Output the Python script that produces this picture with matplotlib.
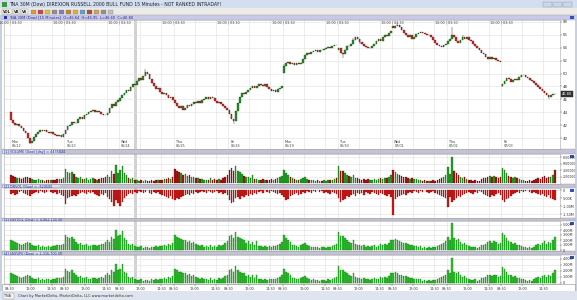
import numpy as np
import matplotlib
matplotlib.use("Agg")
import matplotlib.pyplot as plt
from matplotlib.patches import Rectangle

# 15 minute bars, 26 per session
days = ["Mon", "Tue", "Wed", "Thu", "Fri", "Mon", "Tue", "Wed", "Thu", "Fri"]
dates = ["06/22", "06/23", "06/24", "06/25", "06/26", "06/29", "06/30", "07/01", "07/02", "07/03"]
time_labels = ["09:30", "12:00", "14:30"]
session_label = "10:00 | 03:30"
bars_per_day = 26

day_open = [44.0, 40.6, 45.8, 45.9, 44.4, 50.1, 53.6, 57.3, 54.6, 48.0]

close = [
    42.8, 42.4, 42.0, 42.2, 41.8, 41.5, 41.1, 40.8, 40.0, 39.3, 39.6, 40.1, 40.6, 41.0, 41.3, 41.1, 41.2, 40.9, 40.8, 40.9, 40.6, 40.5, 40.3, 40.5, 40.1, 40.6,
    41.2, 41.8, 42.0, 42.5, 42.3, 42.4, 42.9, 43.2, 43.0, 43.5, 43.7, 44.0, 44.2, 44.4, 44.1, 44.2, 44.0, 43.8, 43.6, 43.5, 43.9, 44.6, 45.2, 45.0, 45.6, 45.9,
    46.2, 46.6, 47.0, 47.5, 47.3, 47.9, 48.4, 48.2, 48.8, 49.3, 49.0, 49.6, 50.2, 50.0, 49.2, 48.5, 48.0, 47.6, 47.8, 47.2, 46.8, 47.0, 46.6, 46.2, 46.4, 45.9,
    45.5, 45.0, 44.6, 44.9, 44.4, 44.7, 45.1, 45.0, 45.3, 45.6, 45.4, 45.7, 45.5, 45.9, 46.0, 46.3, 46.1, 46.4, 46.2, 45.8, 45.5, 45.6, 45.3, 45.0, 44.6, 44.4,
    43.8, 43.0, 42.6, 44.2, 45.5, 46.3, 47.0, 46.8, 47.2, 47.5, 47.8, 48.0, 47.7, 48.1, 48.3, 48.2, 48.0, 48.3, 47.9, 47.6, 47.3, 47.5, 47.2, 47.6, 47.8, 48.0,
    51.2, 51.6, 51.8, 51.5, 51.6, 51.4, 51.6, 51.5, 51.7, 52.3, 52.9, 53.2, 53.0, 53.3, 53.5, 53.6, 53.4, 53.7, 53.6, 53.8, 54.0, 54.1, 53.9, 54.2, 54.5, 54.4,
    54.0, 53.2, 53.1, 53.6, 54.3, 54.2, 54.6, 55.2, 55.6, 55.4, 54.9, 54.6, 54.3, 54.1, 53.9, 54.0, 54.2, 54.6, 55.0, 55.3, 55.1, 55.6, 56.0, 55.8, 56.3, 56.6,
    57.0, 57.4, 57.6, 57.2, 56.8, 56.3, 56.0, 55.7, 55.9, 55.4, 55.7, 56.1, 56.3, 56.5, 56.3, 56.2, 55.9, 56.0, 55.6, 55.2, 54.8, 54.4, 54.2, 54.1, 54.4, 54.6,
    55.0, 55.3, 56.0, 55.7, 55.0, 54.8, 55.2, 55.6, 55.4, 55.7, 55.2, 55.0, 54.6, 54.2, 53.9, 53.6, 53.2, 53.0, 52.6, 52.3, 52.5, 52.2, 52.4, 52.1, 51.9, 51.8,
    48.4, 48.8, 49.3, 49.1, 48.7, 49.0, 49.2, 49.0, 49.4, 49.7, 49.8, 49.5, 49.3, 49.0, 48.8, 48.5, 48.2, 47.9, 47.6, 47.3, 47.0, 46.7, 46.4, 46.6, 46.9, 46.8,
]

# bars with a visible wick beyond the body
wick_hi = {64: 50.7, 130: 51.5, 163: 55.5, 184: 57.9, 210: 57.2, 215: 55.9}
wick_lo = {9: 39.0, 106: 42.2, 158: 52.4, 166: 54.6, 234: 47.9, 256: 46.1}

# volume, millions
volume = [
    2.5, 2.2, 1.9, 1.6, 1.4, 1.3, 1.5, 1.8, 2.0, 1.6, 1.2, 1.0, 0.9, 1.1, 0.8, 0.9, 0.7, 0.8, 0.9, 0.8, 1.0, 0.9, 1.1, 1.2, 1.3, 1.6,
    4.4, 3.4, 3.1, 3.3, 2.8, 2.0, 1.6, 1.8, 1.3, 1.2, 1.5, 1.0, 1.1, 1.4, 1.2, 0.9, 1.3, 1.6, 1.5, 2.0, 2.5, 2.0, 3.7, 2.8, 5.6, 3.2,
    4.0, 5.3, 3.1, 2.5, 1.6, 1.2, 1.5, 0.9, 0.8, 0.7, 0.9, 0.6, 0.8, 0.7, 0.6, 0.8, 0.7, 0.9, 0.8, 1.0, 0.9, 1.2, 1.1, 1.5, 1.3, 1.8,
    4.3, 3.7, 3.4, 3.0, 2.6, 2.8, 2.2, 2.5, 1.9, 2.0, 1.6, 1.4, 1.1, 1.3, 0.9, 1.0, 0.8, 1.4, 0.9, 1.1, 0.8, 1.2, 1.0, 1.4, 1.8, 2.4,
    4.0, 4.7, 3.7, 5.3, 3.7, 3.4, 2.8, 2.2, 1.9, 2.0, 1.6, 2.5, 1.3, 1.2, 1.0, 0.9, 1.1, 0.8, 1.0, 0.9, 1.2, 1.0, 1.3, 1.5, 1.8, 2.2,
    4.0, 3.1, 2.5, 2.0, 1.4, 1.2, 1.0, 0.9, 1.2, 1.6, 1.9, 1.3, 1.0, 0.8, 0.9, 0.7, 0.8, 0.6, 0.7, 0.8, 0.7, 0.9, 0.8, 1.0, 1.2, 1.5,
    5.3, 3.7, 3.7, 3.1, 2.5, 2.2, 1.9, 2.5, 1.6, 1.4, 1.2, 1.0, 1.3, 0.9, 1.1, 0.8, 1.0, 1.2, 0.9, 1.1, 1.5, 1.2, 1.6, 1.4, 1.9, 2.5,
    4.0, 3.4, 2.8, 2.5, 2.2, 1.9, 2.0, 1.6, 1.3, 1.5, 1.1, 1.2, 0.9, 1.0, 0.7, 0.8, 0.6, 0.7, 0.6, 0.8, 0.7, 1.0, 1.2, 1.6, 1.9, 2.5,
    5.0, 2.8, 8.1, 3.7, 3.1, 2.5, 2.0, 1.6, 1.9, 1.3, 1.0, 0.8, 0.7, 0.9, 0.6, 0.7, 1.2, 1.4, 1.6, 2.0, 2.2, 1.9, 2.3, 2.0, 1.6, 1.9,
    4.7, 4.0, 3.1, 2.2, 2.0, 1.6, 1.9, 1.4, 1.2, 1.0, 0.9, 0.7, 0.6, 0.8, 0.7, 0.9, 1.2, 1.5, 1.3, 1.9, 2.2, 1.6, 2.0, 1.9, 2.5, 4.0,
]

# down volume, thousands (plotted negative)
down_vol = [
    250, 190, 310, 250, 125, 60, 190, 250, 310, 375, 250, 190, 125, 190, 60, 125, 190, 125, 0, 125, 190, 125, 250, 190, 310, 375,
    875, 500, 440, 375, 310, 375, 250, 190, 125, 190, 250, 125, 190, 125, 250, 310, 375, 250, 310, 190, 440, 560, 750, 1000, 625, 810,
    1000, 750, 500, 375, 250, 190, 250, 125, 190, 60, 125, 190, 125, 0, 190, 250, 125, 190, 125, 250, 310, 375, 440, 500, 375, 560,
    625, 500, 560, 440, 375, 310, 250, 310, 190, 250, 125, 190, 125, 60, 125, 190, 60, 125, 190, 125, 60, 190, 125, 250, 190, 310,
    625, 810, 750, 500, 440, 560, 375, 440, 310, 375, 250, 310, 190, 250, 125, 60, 190, 0, 125, 190, 60, 125, 190, 250, 190, 310,
    440, 625, 560, 375, 310, 250, 190, 310, 250, 125, 190, 60, 125, 190, 60, 125, 0, 125, 60, 190, 125, 190, 250, 125, 190, 250,
    500, 750, 625, 560, 375, 440, 310, 250, 375, 190, 250, 190, 310, 125, 190, 250, 125, 190, 250, 310, 190, 250, 310, 375, 250, 440,
    1560, 560, 440, 375, 310, 250, 310, 190, 125, 190, 60, 125, 190, 60, 125, 0, 125, 190, 125, 60, 190, 250, 310, 375, 440, 500,
    1060, 440, 750, 625, 500, 375, 440, 310, 250, 190, 125, 190, 250, 125, 190, 60, 125, 250, 310, 375, 440, 310, 375, 250, 190, 310,
    625, 750, 560, 500, 375, 250, 190, 125, 190, 60, 125, 60, 0, 125, 190, 125, 190, 250, 310, 250, 375, 440, 310, 500, 560, 625,
]

# two market volume studies, millions
study1 = [
    2.0, 1.8, 1.6, 1.4, 1.2, 1.0, 1.3, 1.5, 1.7, 1.4, 1.0, 0.9, 0.8, 1.0, 0.7, 0.8, 0.6, 0.7, 0.8, 0.7, 0.9, 0.8, 1.0, 1.1, 1.0, 1.3,
    3.0, 2.6, 2.4, 2.6, 2.2, 1.6, 1.3, 1.5, 1.1, 1.0, 1.2, 0.8, 0.9, 1.1, 1.0, 0.8, 1.1, 1.3, 1.2, 1.6, 2.0, 1.6, 2.6, 2.2, 4.0, 2.8,
    3.0, 3.8, 2.4, 2.0, 1.3, 1.0, 1.2, 0.8, 0.7, 0.6, 0.8, 0.5, 0.7, 0.6, 0.5, 0.7, 0.6, 0.8, 0.7, 0.9, 0.8, 1.0, 0.9, 1.2, 1.1, 1.4,
    3.0, 2.6, 2.4, 2.2, 2.0, 2.1, 1.7, 1.9, 1.5, 1.6, 1.3, 1.1, 0.9, 1.0, 0.7, 0.8, 0.6, 1.1, 0.7, 0.9, 0.6, 1.0, 0.8, 1.1, 1.4, 1.8,
    2.8, 3.0, 2.4, 3.6, 2.6, 2.4, 2.2, 2.0, 1.5, 1.8, 1.2, 1.6, 1.1, 1.8, 0.9, 0.8, 0.7, 0.9, 0.6, 0.8, 0.7, 0.9, 0.8, 1.0, 1.2, 1.6,
    3.0, 2.4, 2.0, 1.6, 1.1, 1.0, 0.8, 0.7, 1.0, 1.3, 1.5, 1.0, 0.8, 0.6, 0.7, 0.6, 0.6, 0.5, 0.6, 0.6, 0.5, 0.7, 0.6, 0.8, 1.0, 1.2,
    3.6, 2.8, 2.8, 2.4, 2.0, 1.7, 1.5, 2.0, 1.3, 1.1, 1.0, 0.8, 1.0, 0.7, 0.9, 0.6, 0.8, 1.0, 0.7, 0.9, 1.2, 1.0, 1.3, 1.1, 1.5, 2.0,
    2.0, 2.2, 2.0, 1.8, 1.6, 1.4, 1.5, 1.2, 1.0, 1.1, 0.8, 0.9, 0.7, 0.8, 0.5, 0.6, 0.5, 0.6, 0.5, 0.6, 0.6, 0.8, 1.0, 1.3, 1.5, 1.8,
    2.6, 2.0, 5.4, 2.4, 2.0, 2.2, 1.6, 1.3, 1.5, 1.0, 0.8, 0.6, 0.6, 0.7, 0.5, 0.6, 1.0, 1.1, 1.3, 1.6, 1.8, 1.5, 1.8, 1.6, 1.3, 1.5,
    3.4, 3.0, 2.4, 1.8, 1.6, 1.3, 1.5, 1.1, 1.0, 0.8, 0.7, 0.6, 0.5, 0.6, 0.5, 0.7, 1.0, 1.2, 1.0, 1.5, 1.8, 1.3, 1.6, 1.5, 2.0, 2.6,
]

study2 = [
    1.6, 1.5, 1.3, 1.1, 1.0, 0.8, 1.0, 1.2, 1.4, 1.1, 0.8, 0.7, 0.6, 0.8, 0.5, 0.6, 0.5, 0.6, 0.7, 0.5, 0.7, 0.6, 0.8, 0.9, 0.8, 1.0,
    2.4, 2.0, 1.9, 2.1, 1.7, 1.3, 1.0, 1.2, 0.9, 0.8, 1.0, 0.6, 0.7, 0.9, 0.8, 0.6, 0.9, 1.0, 0.9, 1.3, 1.6, 1.3, 2.1, 1.8, 3.2, 2.2,
    2.4, 3.1, 1.9, 1.6, 1.0, 0.8, 1.0, 0.6, 0.5, 0.5, 0.6, 0.4, 0.5, 0.5, 0.4, 0.6, 0.5, 0.6, 0.5, 0.7, 0.6, 0.8, 0.7, 1.0, 0.9, 1.1,
    2.4, 2.1, 1.9, 1.8, 1.6, 1.7, 1.3, 1.5, 1.2, 1.3, 1.0, 0.9, 0.7, 0.8, 0.6, 0.6, 0.5, 0.9, 0.5, 0.7, 0.5, 0.8, 0.6, 0.9, 1.1, 1.4,
    2.2, 2.4, 1.9, 2.9, 2.1, 1.9, 1.7, 1.6, 1.2, 1.4, 1.0, 1.3, 0.9, 1.4, 0.7, 0.6, 0.5, 0.7, 0.5, 0.6, 0.6, 0.7, 0.6, 0.8, 1.0, 1.3,
    2.4, 1.9, 1.6, 1.3, 0.9, 0.8, 0.6, 0.6, 0.8, 1.0, 1.2, 0.8, 0.6, 0.5, 0.6, 0.5, 0.5, 0.4, 0.5, 0.5, 0.4, 0.6, 0.5, 0.6, 0.8, 1.0,
    2.9, 2.2, 2.2, 1.9, 1.6, 1.4, 1.2, 1.6, 1.0, 0.9, 0.8, 0.6, 0.8, 0.6, 0.7, 0.5, 0.6, 0.8, 0.6, 0.7, 1.0, 0.8, 1.0, 0.9, 1.2, 1.6,
    1.6, 1.8, 1.6, 1.4, 1.3, 1.1, 1.2, 1.0, 0.8, 0.9, 0.6, 0.7, 0.6, 0.6, 0.4, 0.5, 0.4, 0.5, 0.4, 0.5, 0.5, 0.6, 0.8, 1.0, 1.2, 1.4,
    2.1, 1.6, 4.2, 1.9, 1.6, 1.8, 1.3, 1.0, 1.2, 0.8, 0.6, 0.5, 0.5, 0.6, 0.4, 0.5, 0.8, 0.9, 1.0, 1.3, 1.4, 1.2, 1.4, 1.3, 1.0, 1.2,
    2.7, 2.4, 1.9, 1.4, 1.3, 1.0, 1.2, 0.9, 0.8, 0.6, 0.6, 0.5, 0.4, 0.5, 0.4, 0.6, 0.8, 1.0, 0.8, 1.2, 1.4, 1.0, 1.3, 1.2, 1.6, 2.1,
]

price_ticks = [40, 42, 44, 46, 48, 50, 52, 54, 56, 58]
vol_ticks = [2, 4, 6, 8]
down_ticks = [0, -500, -1000, -1500]
down_tick_labels = ["0", "-500K", "-1.00M", "-1.50M"]
study1_ticks = [0, 1, 2, 3, 4, 5]
study2_ticks = [0, 1, 2, 3, 4]

title = "TNA 30M (Dow) DIREXION RUSSELL 2000 BULL FUND 15 Minutes - NOT RANKED INTRADAY!"
header = "TNA 30M (Dow) [15 Minutes]  O=46.64  H=46.95  L=46.60  C=46.80"
study_names = ["[1] VOLUME (Dow) [day] = 4435824",
               "[2] DNVOL (Dow) = -624500",
               "[3] $NYVOL (Dow) = 4,882,100.00",
               "[4] $NYUPV (Dow) = 2,316,700.00"]
footer = "Chart by MarketDelta, MarketDelta, LLC www.marketdelta.com"

# ---- derived OHLC
close = np.array(close)
n = len(close)
idx = np.arange(n)
opens = np.empty(n)
for i in range(n):
    if i % bars_per_day == 0:
        opens[i] = day_open[i // bars_per_day]
    else:
        opens[i] = close[i - 1]
highs = np.maximum(opens, close)
lows = np.minimum(opens, close)
for k, v in wick_hi.items():
    highs[k] = max(highs[k], v)
for k, v in wick_lo.items():
    lows[k] = min(lows[k], v)
up = close >= opens

W, H = 577, 300


def rect(x0, y0, x1, y1):
    return [x0 / W, 1 - y1 / H, (x1 - x0) / W, (y1 - y0) / H]


fig = plt.figure(figsize=(5.77, 3.0), dpi=100)
fig.patch.set_facecolor("white")

bg = fig.add_axes([0, 0, 1, 1], zorder=-5)
bg.set_xlim(0, W)
bg.set_ylim(H, 0)
bg.axis("off")


def box(x0, y0, x1, y1, fc, ec="none", lw=0.0):
    bg.add_patch(Rectangle((x0, y0), x1 - x0, y1 - y0, facecolor=fc, edgecolor=ec, linewidth=lw))


# window chrome
box(0, 0, W, 8, "#d3dff0")
box(0, 8, W, 15, "#ecebe4")
box(2, 15, W, 20, "#c9c9e6", "#9a9ac0", 0.3)
box(0, 15, 2, 300, "#c6d0de")
box(575, 15, W, 300, "#c6d0de")
bg.add_patch(Rectangle((1.5, 1.5), 5, 5, facecolor="#3a9a3a"))
bg.text(9, 4.2, title, fontsize=3.3, va="center", color="#202020")
for bx in [543, 553, 563]:
    box(bx, 1.5, bx + 9, 6.5, "#cbd6e6", "#8a98b0", 0.3)
for bx, lab in [(2, "VOL"), (13, "VB"), (21, "VS")]:
    box(bx, 9, bx + (10 if lab == "VOL" else 7), 14, "#f4f4f0", "#909090", 0.3)
    bg.text(bx + 0.8, 11.6, lab, fontsize=2.6, va="center", color="#202020", fontweight="bold")
icon_cols = ["#e09830", "#d04040", "#e0c040", "#909090", "#8080c0", "#c08040",
             "#e0b030", "#60a0d0", "#b05030", "#d0a060", "#909090", "#c0c0c0"]
for k, c in enumerate(icon_cols):
    box(31 + 7 * k, 9.5, 36 + 7 * k, 14, c, "#707070", 0.2)
bg.add_patch(Rectangle((4, 16.2), 3, 3, facecolor="#2030c0"))
bg.text(9, 17.6, header, fontsize=2.6, va="center", color="#1a2a9a")
box(570, 15.8, 574, 19.4, "#3050c0")

seps = [(149, 154), (184, 188), (218, 221), (251, 255)]
for (y0, y1), name in zip(seps, study_names):
    box(2, y0, 575, y1, "#c3c3d3", "#9a9ab0", 0.3)
    box(3, y0 + 0.6, 60, y1 - 0.6, "#dcdcf0")
    bg.text(4, (y0 + y1) / 2 + 0.2, name, fontsize=2.4, va="center", color="#1a2a9a")
    box(570, y1 + 0.5, 574, y1 + 4, "#3050c0")

box(2, 284, 575, 291, "white", "#909090", 0.4)
box(0, 291, W, H, "#dfe5ee")
box(3, 292.5, 14, 298.5, "#f4f4f4", "#909090", 0.3)
bg.text(4, 295.6, "TNA", fontsize=2.4, va="center", color="#303030")
bg.text(18, 295.6, footer, fontsize=2.6, va="center", color="#303030")

grid_x = []
for d in range(len(days)):
    grid_x += [d * bars_per_day - 0.5, d * bars_per_day + 10 - 0.5, d * bars_per_day + 20 - 0.5]
xlim = (-3.3, 261.4)
cursor = (58.6, 60.0)
bar_w = 0.7


def style(ax, ylim, ticks, labels=None, lsize=2.8):
    ax.set_xlim(*xlim)
    ax.set_ylim(*ylim)
    ax.set_facecolor("white")
    ax.yaxis.tick_right()
    ax.set_yticks(ticks)
    if labels is not None:
        ax.set_yticklabels(labels)
    ax.tick_params(axis="y", labelsize=lsize, length=1.2, width=0.3, pad=0.8, colors="#303030")
    ax.set_xticks(grid_x)
    ax.tick_params(axis="x", length=0, labelbottom=False)
    ax.grid(True, color="#e0e0e0", linewidth=0.4)
    ax.set_axisbelow(True)
    ax.axvspan(cursor[0], cursor[1], color="#d2d2d2", zorder=0.5, linewidth=0)
    for s in ax.spines.values():
        s.set_color("#a8a8a8")
        s.set_linewidth(0.4)


# ---- price panel
ax = fig.add_axes(rect(4, 20, 560, 149))
style(ax, (38.3, 58.3), price_ticks)
body_bot = np.minimum(opens, close)
body_h = np.maximum(np.abs(close - opens), 0.07)
ccol = np.where(up, "#2a8a2a", "#cc2a2a")
ecol = np.where(up, "#145014", "#701010")
ax.vlines(idx, lows, highs, color="#404040", linewidth=0.35, zorder=2)
ax.bar(idx, body_h, bottom=body_bot, width=0.8, color=ccol, edgecolor=ecol, linewidth=0.25, zorder=3)
for d in range(len(days)):
    x = d * bars_per_day - 0.5
    ax.text(x, 0.978, session_label, transform=ax.get_xaxis_transform(), fontsize=2.4,
            ha="center", va="center", color="#404040")
    ax.text(x + 1, 0.055, days[d], transform=ax.get_xaxis_transform(), fontsize=2.4,
            ha="left", va="center", color="#404040")
    ax.text(x + 1, 0.02, dates[d], transform=ax.get_xaxis_transform(), fontsize=2.4,
            ha="left", va="center", color="#404040")
ax.annotate("%.2f" % close[-1], xy=(1.0, close[-1]), xycoords=("axes fraction", "data"),
            xytext=(1.5, 0), textcoords="offset points", fontsize=2.6, color="white",
            va="center", ha="left",
            bbox=dict(boxstyle="square,pad=0.2", fc="#303030", ec="#303030", lw=0.3))

# ---- volume panel
ax2 = fig.add_axes(rect(4, 154, 560, 184))
style(ax2, (-0.31, 9.0), vol_ticks, ["%d000000" % v for v in vol_ticks], lsize=2.1)
ax2.bar(idx, volume, width=bar_w, color=np.where(up, "#22a022", "#a81414"),
        edgecolor=np.where(up, "#106010", "#600808"), linewidth=0.2, zorder=3)

# ---- down volume panel
ax3 = fig.add_axes(rect(4, 188, 560, 218))
style(ax3, (-1750, 125), down_ticks, down_tick_labels, lsize=2.4)
ax3.bar(idx, -np.array(down_vol), width=bar_w, color="#cc1818", edgecolor="#800c0c",
        linewidth=0.2, zorder=3)

# ---- study panels
ax4 = fig.add_axes(rect(4, 221, 560, 251))
style(ax4, (-0.2, 5.8), study1_ticks, ["0"] + ["%.2fM" % v for v in study1_ticks[1:]], lsize=2.4)
ax4.bar(idx, study1, width=bar_w, color="#30c030", edgecolor="#127a12", linewidth=0.25, zorder=3)

ax5 = fig.add_axes(rect(4, 255, 560, 284))
style(ax5, (-1 / 6, 28 / 6), study2_ticks, ["0"] + ["%.2fM" % v for v in study2_ticks[1:]], lsize=2.4)
ax5.bar(idx, study2, width=bar_w, color="#30c030", edgecolor="#127a12", linewidth=0.25, zorder=3)
ax5.set_xticklabels(time_labels * len(days))
ax5.tick_params(axis="x", labelbottom=True, labelsize=2.4, length=1.2, width=0.3, pad=0.8,
                colors="#303030", direction="out")

fig.savefig("out.png", dpi=100, facecolor="white")
